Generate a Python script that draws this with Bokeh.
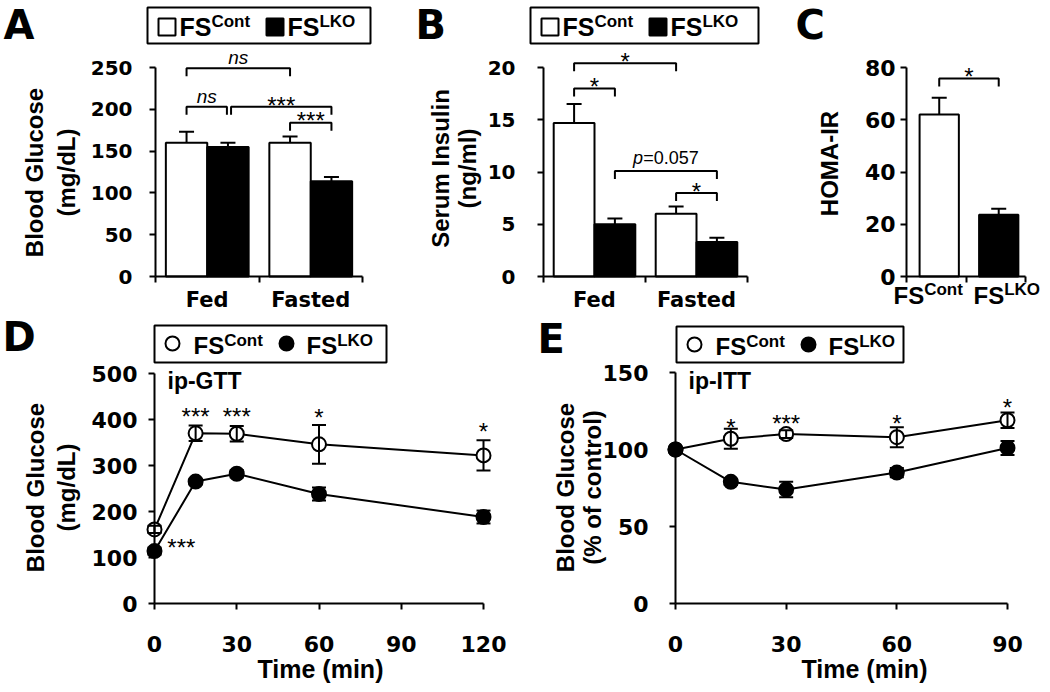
import math
from bokeh.plotting import figure
from bokeh.models import (Range1d, FixedTicker, Label, BoxAnnotation, Whisker,
                          ColumnDataSource, TeeHead)
from bokeh.layouts import row, column
from bokeh.embed import file_html
from bokeh.resources import INLINE

# ------------------------------------------------------------------ data
groups = ["Fed", "Fasted"]
glucose_cont = [160, 160]
glucose_cont_err = [13, 7.5]
glucose_lko = [155, 114]
glucose_lko_err = [5, 5]

insulin_cont = [14.7, 6.0]
insulin_cont_err = [1.8, 0.7]
insulin_lko = [5.0, 3.3]
insulin_lko_err = [0.55, 0.4]

homa_groups = ["Cont", "LKO"]
homa = [62.0, 23.6]
homa_err = [6.4, 2.3]

gtt_time = [0, 15, 30, 60, 120]
gtt_cont = [161, 370, 369, 346, 322]
gtt_cont_err = [8, 17, 17, 42, 33]
gtt_lko = [114, 265, 282, 238, 188]
gtt_lko_err = [8, 6, 8, 14, 14]

itt_time = [0, 15, 30, 60, 90]
itt_cont = [100, 107, 110, 108, 119]
itt_cont_err = [0, 6.5, 2.5, 6.5, 5]
itt_lko = [100, 79, 74, 85, 101]
itt_lko_err = [0, 2, 5, 3, 4.5]

a_yticks = [0, 50, 100, 150, 200, 250]
b_yticks = [0, 5, 10, 15, 20]
c_yticks = [0, 20, 40, 60, 80]
d_yticks = [0, 100, 200, 300, 400, 500]
e_yticks = [0, 50, 100, 150]
d_xticks = [0, 30, 60, 90, 120]
e_xticks = [0, 30, 60, 90]

# significance brackets: (x1, x2, y, label)
a_brackets = [(0.8, 1.8, 249, "ns"), (0.8, 1.19, 203, "ns"),
              (1.23, 2.2, 203, "***"), (1.8, 2.2, 184, "***")]
b_brackets = [(0.8, 1.8, 20.4, "*"), (0.8, 1.2, 18.0, "*"),
              (1.2, 2.2, 10.1, "p=0.057"), (1.8, 2.2, 8.0, "*")]
c_brackets = [(1.05, 2.05, 75.8, "*")]
d_stars = [(15, 417, "***"), (30, 417, "***"), (60, 415, "*"),
           (120, 385, "*"), (9.8, 134, "***")]
e_stars = [(15, 118, "*"), (30, 120, "***"), (60, 120, "*"), (90, 131, "*")]

AX_FONT = "DejaVu Sans"
TXT_FONT = "Liberation Sans"
MID = 0.35  # em distance from baseline to the middle of the text box


class Panel:
    """A figure whose frame covers the whole canvas; data<->pixel helpers."""

    def __init__(self, W, H, xmap, ymap):
        (self.xa, self.pxa), (xb, pxb) = xmap
        (self.ya, self.pya), (yb, pyb) = ymap
        self.sx = (pxb - self.pxa) / (xb - self.xa)
        self.sy = (self.pya - pyb) / (yb - self.ya)
        p = figure(width=W, height=H,
                   x_range=Range1d(self.X(0), self.X(W)),
                   y_range=Range1d(self.Y(H), self.Y(0)),
                   output_backend="svg", toolbar_location=None,
                   min_border_left=0, min_border_right=0,
                   min_border_top=0, min_border_bottom=0)
        p.outline_line_color = None
        p.xgrid.visible = False
        p.ygrid.visible = False
        p.background_fill_color = "white"
        p.border_fill_color = "white"
        self.p = p

    def X(self, px):
        return self.xa + (px - self.pxa) / self.sx

    def Y(self, py):
        return self.ya + (self.pya - py) / self.sy

    def PX(self, x):
        return self.pxa + (x - self.xa) * self.sx

    def PY(self, y):
        return self.pya - (y - self.ya) * self.sy

    def label(self, px, base_py, text, size, font=TXT_FONT, style="bold", align="left"):
        # base_py: pixel row of the text baseline
        self.p.add_layout(Label(x=self.X(px), y=self.Y(base_py - MID * size), text=text,
                                text_font=font, text_font_style=style,
                                text_font_size=f"{size}px", text_color="black",
                                text_align=align, text_baseline="middle"))

    def vlabel(self, px_mid, py_center, text, size=24):
        self.p.add_layout(Label(x=self.X(px_mid), y=self.Y(py_center), text=text,
                                text_font=TXT_FONT, text_font_style="bold",
                                text_font_size=f"{size}px", text_color="black",
                                text_align="center", text_baseline="middle",
                                angle=math.pi / 2))


def style_axis(ax, size, standoff):
    ax.axis_line_width = 2
    ax.axis_line_color = "black"
    ax.major_tick_line_width = 2
    ax.major_tick_line_color = "black"
    ax.major_tick_in = 0
    ax.major_tick_out = 6
    ax.minor_tick_line_color = None
    ax.major_label_text_font = AX_FONT
    ax.major_label_text_font_style = "bold"
    ax.major_label_text_font_size = f"{size}px"
    ax.major_label_text_color = "black"
    ax.major_label_standoff = standoff


def setup_y(pn, ticks, loc, size, standoff):
    ax = pn.p.yaxis[0]
    ax.ticker = FixedTicker(ticks=ticks)
    ax.bounds = (ticks[0], ticks[-1])
    ax.fixed_location = loc
    style_axis(ax, size, standoff)


def setup_cat_x(pn, labels, size, standoff):
    ax = pn.p.xaxis[0]
    centers = list(range(1, len(labels) + 1))
    ax.ticker = FixedTicker(ticks=centers,
                            minor_ticks=[c - 0.5 for c in centers] + [centers[-1] + 0.5])
    ax.major_label_overrides = {c: l for c, l in zip(centers, labels)}
    ax.bounds = (0.5, len(labels) + 0.5)
    ax.fixed_location = 0
    style_axis(ax, size, standoff)
    ax.major_tick_out = 0
    ax.minor_tick_out = 6
    ax.minor_tick_in = 0
    ax.minor_tick_line_color = "black"
    ax.minor_tick_line_width = 2


def setup_num_x(pn, ticks, size, standoff):
    ax = pn.p.xaxis[0]
    ax.ticker = FixedTicker(ticks=ticks)
    ax.bounds = (ticks[0], ticks[-1])
    ax.fixed_location = 0
    style_axis(ax, size, standoff)


def bars(pn, vals, errs, offset, width, fills):
    x = [i + 1 + offset for i in range(len(vals))]
    src = ColumnDataSource(dict(x=x, top=vals, hi=[v + e for v, e in zip(vals, errs)],
                                fill=fills))
    pn.p.vbar(x="x", top="top", bottom=0, width=width, source=src,
              fill_color="fill", line_color="black", line_width=2)
    pn.p.add_layout(Whisker(source=src, base="x", lower="top", upper="hi",
                            dimension="height", line_color="black", line_width=2,
                            upper_head=TeeHead(size=15, line_color="black", line_width=2),
                            lower_head=None, level="annotation"))


def series(pn, t, vals, errs, fill):
    src = ColumnDataSource(dict(x=t, y=vals,
                                lo=[v - e for v, e in zip(vals, errs)],
                                hi=[v + e for v, e in zip(vals, errs)]))
    pn.p.line("x", "y", source=src, line_color="black", line_width=2)
    pn.p.scatter("x", "y", source=src, size=14, marker="circle",
                 fill_color=fill, line_color="black", line_width=2)
    pn.p.add_layout(Whisker(source=src, base="x", lower="lo", upper="hi",
                            dimension="height", line_color="black", line_width=2,
                            upper_head=TeeHead(size=14, line_color="black", line_width=2),
                            lower_head=TeeHead(size=14, line_color="black", line_width=2),
                            level="annotation"))


def fs_text(pn, px, base, sup, big, small, rise):
    pn.label(px, base, "FS", big)
    pn.label(px + 1.278 * big, base - rise, sup, small)


def box(pn, l, t, r, b, fill, level="annotation"):
    pn.p.add_layout(BoxAnnotation(left=pn.X(l), right=pn.X(r), top=pn.Y(t), bottom=pn.Y(b),
                                  fill_color=fill, fill_alpha=1, line_color="black",
                                  line_alpha=1, line_width=2, level=level))


def legend_bars(pn, L, T, W, H=36):
    box(pn, L, T, L + W, T + H, "white", level="underlay")
    box(pn, L + 11, T + 11, L + 28, T + 28, "white")
    box(pn, L + 119, T + 11, L + 136, T + 28, "black")
    fs_text(pn, L + 32, T + 28, "Cont", 25, 17, 8)
    fs_text(pn, L + 140, T + 28, "LKO", 25, 17, 8)


def legend_circles(pn, L, T, W, H=37):
    box(pn, L, T, L + W, T + H, "white", level="underlay")
    pn.p.scatter([pn.X(L + 18), pn.X(L + 132)], [pn.Y(T + 18)] * 2, size=14,
                 marker="circle", fill_color=["white", "black"], line_color="black",
                 line_width=2)
    fs_text(pn, L + 39, T + 28, "Cont", 24, 17, 7)
    fs_text(pn, L + 152, T + 28, "LKO", 24, 17, 7)


def star(pn, cx, cy, text):
    # cx, cy: visual centre of the asterisks in pixels
    pn.label(cx, cy + 0.57 * 24, text, 24, style="normal", align="center")


def draw_brackets(pn, items, drop=8):
    d = drop / pn.sy
    xs = [[x1, x1, x2, x2] for x1, x2, y, lab in items]
    ys = [[y - d, y, y, y - d] for x1, x2, y, lab in items]
    pn.p.multi_line(xs, ys, line_color="black", line_width=2)
    for x1, x2, y, lab in items:
        cx = pn.PX((x1 + x2) / 2)
        ly = pn.PY(y)
        if lab == "ns":
            pn.label(cx, ly - 4, "ns", 19, style="italic", align="center")
        elif lab.startswith("p="):
            size = 18
            left = cx - 3.642 * size / 2
            pn.label(left, ly - 7, "p", size, style="italic")
            pn.label(left + 0.556 * size, ly - 7, lab[1:], size, style="normal")
        else:
            star(pn, cx, ly - 7, lab)


# ------------------------------------------------------------------ panel A
A = Panel(378, 312, ((0.5, 155), (2.5, 362)), ((0, 276), (250, 67)))
setup_y(A, a_yticks, 0.5, 20, 17)
setup_cat_x(A, groups, 21, 5)
bars(A, glucose_cont, glucose_cont_err, -0.2, 0.4, ["white"] * 2)
bars(A, glucose_lko, glucose_lko_err, 0.2, 0.4, ["black"] * 2)
draw_brackets(A, a_brackets)
legend_bars(A, 147, 7, 223)
A.label(3, 38, "A", 40, font=AX_FONT)
A.vlabel(34, 172, "Blood Glucose")
A.vlabel(66, 172, "(mg/dL)")

# ------------------------------------------------------------------ panel B
B = Panel(402, 312, ((0.5, 165), (2.5, 369)), ((0, 276), (20, 67)))
setup_y(B, b_yticks, 0.5, 20, 22)
setup_cat_x(B, groups, 21, 5)
bars(B, insulin_cont, insulin_cont_err, -0.2, 0.4, ["white"] * 2)
bars(B, insulin_lko, insulin_lko_err, 0.2, 0.4, ["black"] * 2)
draw_brackets(B, b_brackets)
legend_bars(B, 152, 7, 228)
B.label(37, 38, "B", 40, font=AX_FONT)
B.vlabel(62, 168, "Serum Insulin")
B.vlabel(89, 168, "(ng/ml)")

# ------------------------------------------------------------------ panel C
C = Panel(268, 312, ((0.5, 126), (2.5, 245)), ((0, 276), (80, 67)))
setup_y(C, c_yticks, 0.5, 22, 5)
setup_cat_x(C, ["", ""], 21, 5)
bars(C, homa, homa_err, 0.05, 0.66, ["white", "black"])
draw_brackets(C, c_brackets)
C.label(15, 38, "C", 40, font=AX_FONT)
C.vlabel(49, 163, "HOMA-IR")
fs_text(C, 113, 303, homa_groups[0], 24, 17, 8)
fs_text(C, 193, 303, homa_groups[1], 24, 17, 8)

# ------------------------------------------------------------------ panel D
D = Panel(520, 378, ((0, 154), (120, 483)), ((0, 291), (500, 61)))
setup_y(D, d_yticks, 0, 22, 11)
setup_num_x(D, d_xticks, 22, 26)
series(D, gtt_time, gtt_cont, gtt_cont_err, "white")
series(D, gtt_time, gtt_lko, gtt_lko_err, "black")
for t, yc, s in d_stars:
    star(D, D.PX(t), D.PY(yc), s)
legend_circles(D, 154, 13, 232)
D.label(2, 38, "D", 40, font=AX_FONT)
D.label(167, 77, "ip-GTT", 23)
D.vlabel(35, 175, "Blood Glucose")
D.vlabel(66, 175, "(mg/dL)")
D.label(320, 365, "Time (min)", 25, align="center")

# ------------------------------------------------------------------ panel E
E = Panel(528, 378, ((0, 155), (90, 487)), ((0, 291), (150, 60)))
setup_y(E, e_yticks, 0, 22, 21)
setup_num_x(E, e_xticks, 22, 26)
series(E, itt_time, itt_cont, itt_cont_err, "white")
series(E, itt_time, itt_lko, itt_lko_err, "black")
for t, yc, s in e_stars:
    star(E, E.PX(t), E.PY(yc), s)
legend_circles(E, 156, 14, 227, 36)
E.label(17, 40, "E", 40, font=AX_FONT)
E.label(168, 77, "ip-ITT", 23)
E.vlabel(45, 175, "Blood Glucose")
E.vlabel(72, 175, "(% of control)")
E.label(344, 365, "Time (min)", 25, align="center")

layout = column(row(A.p, B.p, C.p), row(D.p, E.p))
open("out.html", "w").write(file_html(layout, INLINE, "Figure"))
